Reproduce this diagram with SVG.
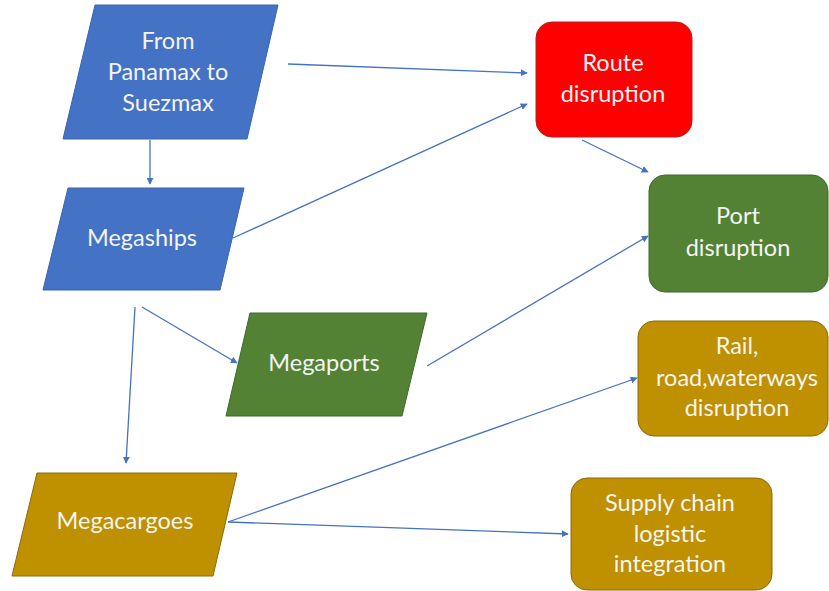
<svg xmlns="http://www.w3.org/2000/svg" width="829" height="591" viewBox="0 0 829 591">
<style>
.t{font-family:Lato,"Open Sans","Liberation Sans",sans-serif;font-size:23.5px;fill:#F4F4F4;text-anchor:middle}
.blue{fill:#4472C4;stroke:#3A64AE;stroke-width:1}
.red{fill:#FF0000;stroke:#B02020;stroke-width:1}
.green{fill:#548235;stroke:#41682A;stroke-width:1}
.gold{fill:#BF9000;stroke:#8A6A10;stroke-width:1}
.c{stroke:#4472C4;stroke-width:1.3;fill:none;marker-end:url(#a)}
</style>
<defs>
<marker id="a" viewBox="0 0 10 10" refX="9" refY="5" markerWidth="7" markerHeight="7" markerUnits="userSpaceOnUse" orient="auto">
<path d="M0,0L10,5L0,10z" fill="#4472C4"/>
</marker>
</defs>
<rect width="829" height="591" fill="#FFFFFF"/>
<g id="connectors">
<line class="c" x1="150" y1="140" x2="150" y2="184"/>
<line class="c" x1="288" y1="64" x2="527" y2="73"/>
<line class="c" x1="233" y1="238" x2="527" y2="104"/>
<line class="c" x1="582" y1="140" x2="648" y2="172"/>
<line class="c" x1="142" y1="307" x2="237" y2="363"/>
<line class="c" x1="135" y1="307" x2="126" y2="463"/>
<line class="c" x1="427" y1="366" x2="648" y2="236"/>
<line class="c" x1="228" y1="522" x2="637" y2="378"/>
<line class="c" x1="228" y1="522" x2="568" y2="534"/>
</g>
<g id="from-panamax">
<polygon class="blue" points="95,5 278,5 247,139 63,139"/>
<text class="t" x="168" y="49">From</text>
<text class="t" x="168" y="80">Panamax to</text>
<text class="t" x="168" y="111">Suezmax</text>
</g>
<g id="megaships">
<polygon class="blue" points="68,188 244,188 220,290 43,290"/>
<text class="t" x="142" y="246">Megaships</text>
</g>
<g id="megaports">
<polygon class="green" points="250,313 427,313 402,416 226,416"/>
<text class="t" x="324" y="371">Megaports</text>
</g>
<g id="megacargoes">
<polygon class="gold" points="37,473 237,473 213,576 12,576"/>
<text class="t" x="125" y="529">Megacargoes</text>
</g>
<g id="route-disruption">
<rect class="red" x="536" y="22" width="156" height="115" rx="16"/>
<text class="t" x="613" y="71">Route</text>
<text class="t" x="613" y="102">disruption</text>
</g>
<g id="port-disruption">
<rect class="green" x="649" y="175" width="179" height="117" rx="16"/>
<text class="t" x="738" y="224">Port</text>
<text class="t" x="738" y="256">disruption</text>
</g>
<g id="rail-road-waterways">
<rect class="gold" x="638" y="321" width="190" height="115" rx="16"/>
<text class="t" x="737" y="354">Rail,</text>
<text class="t" x="737" y="386">road,waterways</text>
<text class="t" x="737" y="416">disruption</text>
</g>
<g id="supply-chain">
<rect class="gold" x="571" y="478" width="201" height="112" rx="16"/>
<text class="t" x="670" y="511">Supply chain</text>
<text class="t" x="670" y="542">logistic</text>
<text class="t" x="670" y="572">integration</text>
</g>
</svg>
